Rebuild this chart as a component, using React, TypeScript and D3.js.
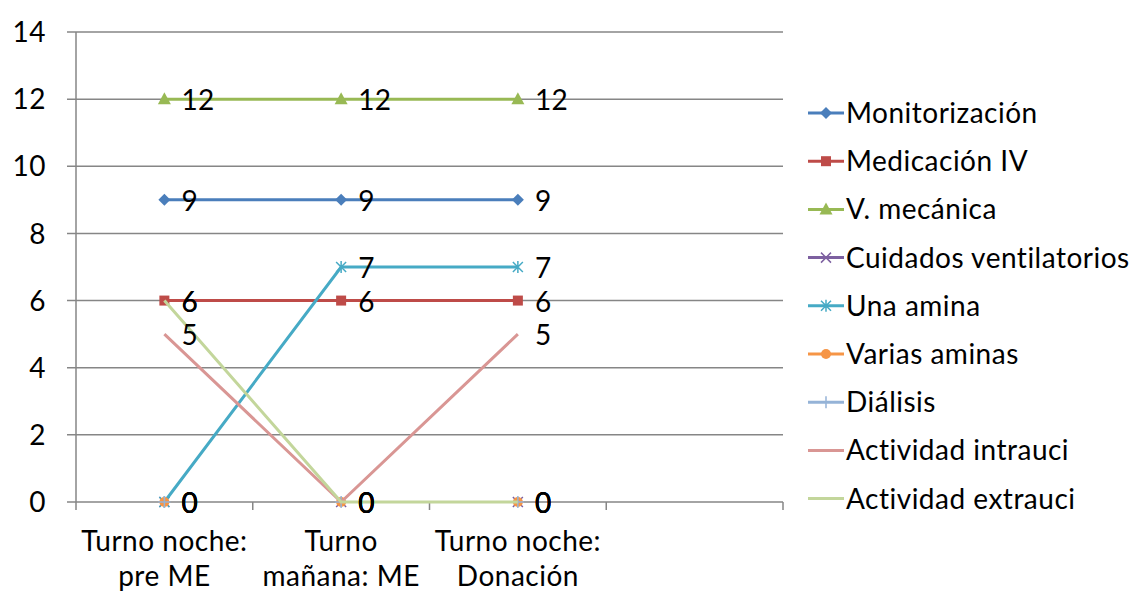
import React from "react";
import * as d3 from "d3";

const categories = ["Turno noche:|pre ME", "Turno|mañana: ME", "Turno noche:|Donación", ""];
const seriesNames = [
  "Monitorización",
  "Medicación IV",
  "V. mecánica",
  "Cuidados ventilatorios",
  "Una amina",
  "Varias aminas",
  "Diálisis",
  "Actividad intrauci",
  "Actividad extrauci",
];
const monitorizacion = [9, 9, 9];
const medicacionIV = [6, 6, 6];
const vMecanica = [12, 12, 12];
const cuidadosVent = [0, 0, 0];
const unaAmina = [0, 7, 7];
const variasAminas = [0, 0, 0];
const dialisis = [0, 0, 0];
const actIntrauci = [5, 0, 5];
const actExtrauci = [6, 0, 0];
const seriesValues = [monitorizacion, medicacionIV, vMecanica, cuidadosVent, unaAmina, variasAminas, dialisis, actIntrauci, actExtrauci];
const colors = ["#4A7EBB", "#BE4B48", "#98B954", "#7D60A0", "#46AAC5", "#F69546", "#95B3D7", "#D99694", "#C3D69B"];
const markers = ["diamond", "square", "triangle", "x", "asterisk", "circle", "plus", "none", "none"];
const showPlotLine = [true, true, true, false, true, false, false, true, true];
const yTicks = [0, 2, 4, 6, 8, 10, 12, 14];

const FONT = "Lato, 'Open Sans', sans-serif";
const FS = 28;
const LS = 0.5;

function Marker({ type, x, y, color }: { type: string; x: number; y: number; color: string }) {
  switch (type) {
    case "diamond":
      return <path d={`M${x},${y - 6}L${x + 6},${y}L${x},${y + 6}L${x - 6},${y}Z`} fill={color} />;
    case "square":
      return <rect x={x - 5} y={y - 5} width={10} height={10} fill={color} />;
    case "triangle":
      return <path d={`M${x},${y - 7}L${x + 6.5},${y + 5}L${x - 6.5},${y + 5}Z`} fill={color} />;
    case "x":
      return (
        <path d={`M${x - 5},${y - 5}L${x + 5},${y + 5}M${x - 5},${y + 5}L${x + 5},${y - 5}`} stroke={color} strokeWidth={1.5} />
      );
    case "asterisk":
      return (
        <path
          d={`M${x - 5},${y - 5}L${x + 5},${y + 5}M${x - 5},${y + 5}L${x + 5},${y - 5}M${x},${y - 6}L${x},${y + 6}`}
          stroke={color}
          strokeWidth={1.5}
        />
      );
    case "circle":
      return <circle cx={x} cy={y} r={5} fill={color} />;
    case "plus":
      return <path d={`M${x - 6},${y}L${x + 6},${y}M${x},${y - 6}L${x},${y + 6}`} stroke={color} strokeWidth={1.5} />;
    default:
      return null;
  }
}

export default function App() {
  const left = 76, right = 783, top = 32, bottom = 502;
  const x = d3.scaleBand<string>().domain(categories).range([left, right]);
  const y = d3.scaleLinear().domain([0, 14]).range([bottom, top]);
  const cx = (i: number) => (x(categories[i]) as number) + x.bandwidth() / 2;
  const line = d3
    .line<number>()
    .x((_, i) => cx(i))
    .y((d) => y(d));
  const grid = "#868686";
  const legendX = 808;
  const legendY0 = 113;
  const legendStep = 48.2;

  return (
    <svg width={1143} height={592} style={{ position: "absolute", left: 0, top: 0, background: "#fff" }} fontFamily={FONT} letterSpacing={LS}>
      {yTicks.map((t) => (
        <g key={t}>
          <line x1={67} x2={right} y1={y(t)} y2={y(t)} stroke={grid} strokeWidth={1.5} />
          <text x={46} y={y(t)} dy="0.36em" textAnchor="end" fontSize={FS} fill="#000">
            {t}
          </text>
        </g>
      ))}
      <line x1={left} x2={left} y1={top} y2={bottom + 8} stroke={grid} strokeWidth={1.5} />
      {categories.map((c, i) => {
        const bx = (x(c) as number) + x.bandwidth();
        return <line key={i} x1={bx} x2={bx} y1={bottom} y2={bottom + 8} stroke={grid} strokeWidth={1.5} />;
      })}
      {categories.map((c, i) => {
        const parts = c.split("|");
        return (
          <text key={i} x={cx(i)} textAnchor="middle" fontSize={FS} fill="#000">
            {parts.map((p, j) =>
              p ? (
                <tspan key={j} x={cx(i)} y={551 + j * 35}>
                  {p}
                </tspan>
              ) : null
            )}
          </text>
        );
      })}
      {seriesValues.map((vals, si) => (
        <g key={si}>
          {showPlotLine[si] && <path d={line(vals) || ""} fill="none" stroke={colors[si]} strokeWidth={3} />}
          {vals.map((v, i) => (
            <Marker key={i} type={markers[si]} x={cx(i)} y={y(v)} color={colors[si]} />
          ))}
        </g>
      ))}
      {seriesValues.map((vals, si) =>
        vals.map((v, i) => (
          <text key={`${si}-${i}`} x={cx(i) + 17} y={y(v)} dy="0.4em" fontSize={FS} fill="#000">
            {v}
          </text>
        ))
      )}
      {seriesNames.map((name, i) => {
        const ly = legendY0 + i * legendStep;
        return (
          <g key={name}>
            <line x1={legendX} x2={legendX + 36} y1={ly} y2={ly} stroke={colors[i]} strokeWidth={3} />
            <Marker type={markers[i]} x={legendX + 18} y={ly} color={colors[i]} />
            <text x={legendX + 38} y={ly} dy="0.36em" fontSize={FS} fill="#000">
              {name}
            </text>
          </g>
        );
      })}
    </svg>
  );
}
